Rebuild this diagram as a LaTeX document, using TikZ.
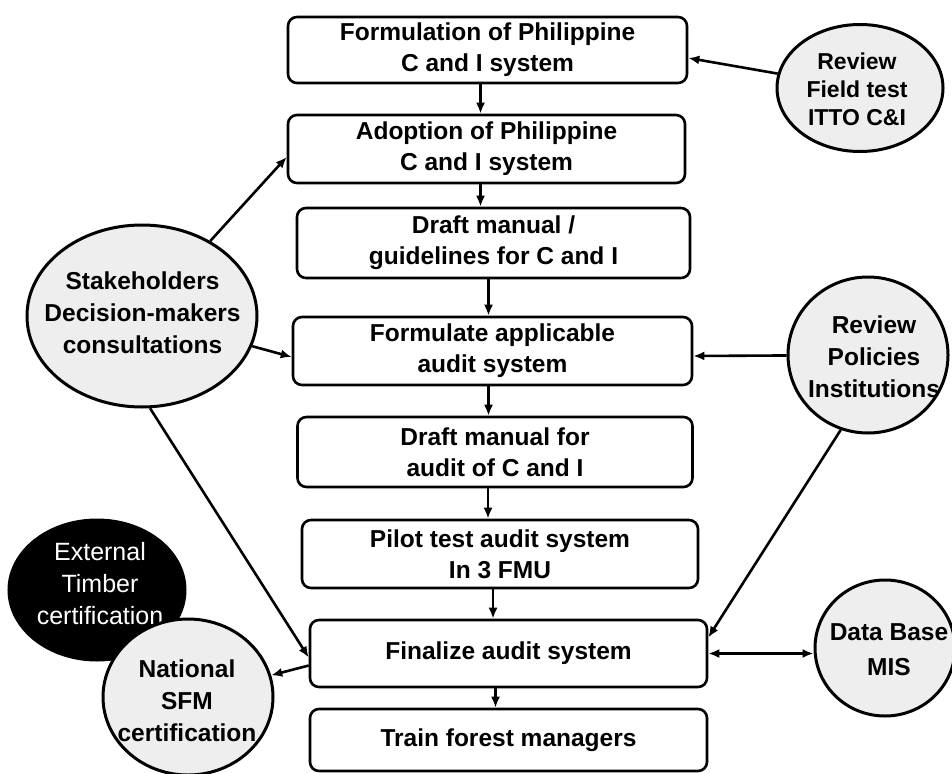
\documentclass[tikz,border=0pt]{standalone}
\usepackage{fontspec}
\setmainfont{Liberation Sans}
\usetikzlibrary{shapes.geometric,arrows.meta,calc}
\begin{document}
\begin{tikzpicture}[x=1pt,y=-1pt,
  stepbox/.style={draw=black, line width=2.6pt, rounded corners=9pt, fill=white, inner sep=0pt, align=center, font=\bfseries\fontsize{24.5}{31}\selectfont},
  bubble/.style={ellipse, draw=black, line width=3pt, fill=gray!13, inner sep=0pt},
  blackbubble/.style={ellipse, draw=black, line width=3pt, fill=black, inner sep=0pt},
  btext/.style={align=center, inner sep=0pt, font=\bfseries\fontsize{24.5}{32}\selectfont},
  arr/.style={line width=2.6pt, -{Latex[length=11pt,width=9pt]}},
  arrtwo/.style={line width=2.6pt, {Latex[length=11pt,width=9pt]}-{Latex[length=11pt,width=9pt]}}
]
\useasboundingbox (0,0) rectangle (952,773);

% process boxes
\node[stepbox, minimum width=399pt, minimum height=66pt] (b1) at (487.5,50) {Formulation of Philippine\\C and I system};
\node[stepbox, minimum width=397pt, minimum height=68pt] (b2) at (486.5,149) {Adoption of Philippine\\C and I system};
\node[stepbox, minimum width=393pt, minimum height=70pt] (b3) at (493.5,243) {Draft manual /\\guidelines for C and I};
\node[stepbox, minimum width=399pt, minimum height=68pt] (b4) at (492.5,351) {Formulate applicable\\audit system};
\node[stepbox, minimum width=395pt, minimum height=70pt] (b5) at (495,452) {Draft manual for\\audit of C and I};
\node[stepbox, minimum width=396pt, minimum height=68pt] (b6) at (500,554) {Pilot test audit system\\In 3 FMU};
\node[stepbox, minimum width=397pt, minimum height=67pt] (b7) at (508.5,653.5) {Finalize audit system};
\node[stepbox, minimum width=397pt, minimum height=62pt] (b8) at (508.5,740) {Train forest managers};

% bubbles
\node[bubble, minimum width=166pt, minimum height=127pt] (rf) at (860,88) {};
\node[btext, font=\bfseries\fontsize{23}{28}\selectfont] (rft) at (857,89) {Review\\Field test\\ITTO C\&I};

\node[bubble, minimum width=230pt, minimum height=182pt] (sh) at (142,316) {};
\node[btext] (sht) at (142.5,313) {Stakeholders\\Decision-makers\\consultations};

\node[bubble, minimum width=160pt, minimum height=156pt] (pol) at (868,355) {};
\node[btext] (polt) at (874,357) {Review\\Policies\\Institutions};

\node[bubble, minimum width=140pt, minimum height=136pt] (db) at (885,648) {};
\node[btext, font=\bfseries\fontsize{24.5}{35}\selectfont] (dbt) at (889,650) {Data Base\\MIS};

\node[blackbubble, minimum width=176pt, minimum height=140pt] (ext) at (97,590) {};
\node[align=center, inner sep=0pt, text=white, font=\fontsize{25}{32}\selectfont] (extt) at (100,584) {External\\Timber\\certification};

\node[bubble, minimum width=170pt, minimum height=156pt] (nat) at (188,697) {};
\node[btext] (natt) at (187,701) {National\\SFM\\certification};

% vertical flow
\draw[arr] ([xshift=-7pt]b1.south) -- ([xshift=-7pt]b1.south |- b2.north);
\draw[arr] ([xshift=-6pt]b2.south) -- ([xshift=-6pt]b2.south |- b3.north);
\draw[arr] ([xshift=-5pt]b3.south) -- ([xshift=-5pt]b3.south |- b4.north);
\draw[arr] ([xshift=-4pt]b4.south) -- ([xshift=-4pt]b4.south |- b5.north);
\draw[arr] ([xshift=-7pt]b5.south) -- ([xshift=-7pt]b5.south |- b6.north);
\draw[arr] ([xshift=-7pt]b6.south) -- ([xshift=-7pt]b6.south |- b7.north);
\draw[arr] ([xshift=-13pt]b7.south) -- ([xshift=-13pt]b7.south |- b8.north);

% side connectors
\draw[arr] (rf) -- ([yshift=-8pt]b1.east);
\draw[arr] (sh) -- ([yshift=-8pt]b2.west);
\draw[arr] (sh) -- ([yshift=-6pt]b4.west);
\draw[arr] (sh.275) -- ([yshift=-4pt]b7.west);
\draw[arr] ([yshift=-12pt]b7.west) -- (nat);
\draw[arr] (pol) -- ([yshift=-5pt]b4.east);
\draw[arr] (pol.250) -- ([yshift=16pt]b7.east);
\draw[arrtwo] (b7.east) -- (b7.east -| db.west);
\end{tikzpicture}
\end{document}
